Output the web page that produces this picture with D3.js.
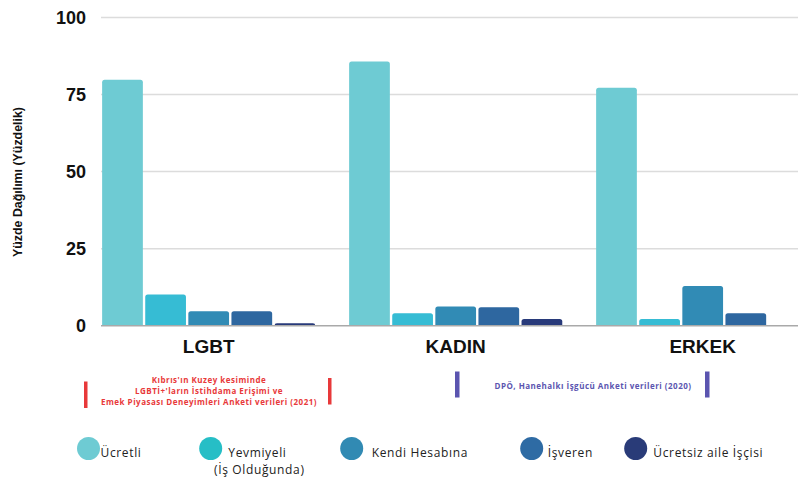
<!DOCTYPE html>
<html><head><meta charset="utf-8">
<script src="https://cdn.jsdelivr.net/npm/d3@7"></script>
<style>body{margin:0;background:#fff}svg{display:block}</style>
</head><body>
<svg id="c" width="798" height="477"></svg>
<script>
const categories = ["LGBT", "KADIN", "ERKEK"];
const seriesNames = ["Ücretli", "Yevmiyeli", "Kendi Hesabına", "İşveren", "Ücretsiz aile İşçisi"];
const ucretli = [79.8, 85.7, 77.2];
const yevmiyeli = [10.1, 4.0, 2.2];
const kendiHesabina = [4.7, 6.2, 12.9];
const isveren = [4.7, 6.0, 4.0];
const ucretsizAile = [0.8, 2.2, 0];
const yTicks = [0, 25, 50, 75, 100];
const barColors = ["#6ECBD3", "#36BCD4", "#318BB5", "#2E67A0", "#283A7A"];
const legendColors = ["#6ECBD3", "#26BEC6", "#318AB3", "#2E6BA4", "#293B78"];
const seriesValues = [ucretli, yevmiyeli, kendiHesabina, isveren, ucretsizAile];

const svg = d3.select("#c");
const y = d3.scaleLinear().domain([0, 100]).range([325.7, 17.5]);
const x0 = d3.scaleBand().domain(categories).range([101.7, 809.7]).paddingInner(0.1336).paddingOuter(0);
const x1 = d3.scaleBand().domain(seriesNames).range([0, x0.bandwidth()]).paddingInner(0.055).paddingOuter(0.01);

function fitWidth(sel, refNode, base, target) {
  const w = refNode.getComputedTextLength();
  sel.attr("font-size", w > 0 ? base * target / w : base);
}
// widen a text selection with letter-spacing so a reference node reaches a target width
function fitSpacing(sel, refNode, target) {
  const w = refNode.getComputedTextLength();
  const n = refNode.textContent.length;
  sel.attr("letter-spacing", Math.max(0, (target - w) / n));
}

// gridlines
svg.append("g").selectAll("line").data(yTicks.filter(d => d > 0)).join("line")
  .attr("x1", 101).attr("x2", 798).attr("y1", d => y(d)).attr("y2", d => y(d))
  .attr("stroke", "#dcdcdc").attr("stroke-width", 1.5);

// y tick labels
svg.append("g").selectAll("text").data(yTicks).join("text")
  .attr("x", 86).attr("y", d => y(d)).attr("dy", "0.36em")
  .attr("text-anchor", "end").attr("font-family", "Liberation Sans, Arial, sans-serif")
  .attr("font-weight", "bold").attr("font-size", 18).attr("fill", "#111").text(d => d);

// y title
const yTitle = svg.append("text").attr("transform", "translate(21.5,182) rotate(-90)")
  .attr("text-anchor", "middle").attr("font-family", "Liberation Sans, Arial, sans-serif")
  .attr("font-weight", "bold").attr("font-size", 10).attr("fill", "#111")
  .text("Yüzde Dağılımı (Yüzdelik)");
fitWidth(yTitle, yTitle.node(), 10, 150);

// bars
function topRounded(x, yTop, w, yBase, r) {
  const h = yBase - yTop;
  r = Math.min(r, h, w / 2);
  return `M${x},${yBase}V${yTop + r}Q${x},${yTop} ${x + r},${yTop}H${x + w - r}Q${x + w},${yTop} ${x + w},${yTop + r}V${yBase}Z`;
}
const groups = svg.append("g").selectAll("g").data(categories).join("g")
  .attr("transform", d => `translate(${x0(d)},0)`);
groups.selectAll("path").data((c, ci) => seriesNames.map((s, si) => ({ s, si, v: seriesValues[si][ci] })).filter(d => d.v > 0))
  .join("path")
  .attr("d", d => topRounded(x1(d.s), y(d.v), x1.bandwidth(), y(0), 2.5))
  .attr("fill", d => barColors[d.si]);

// baseline
svg.append("line").attr("x1", 101).attr("x2", 798).attr("y1", y(0)).attr("y2", y(0))
  .attr("stroke", "#a9a9a9").attr("stroke-width", 1.5);

// category labels
svg.append("g").selectAll("text").data(categories).join("text")
  .attr("x", d => x0(d) + x0.bandwidth() / 2).attr("y", 353)
  .attr("text-anchor", "middle").attr("font-family", "Liberation Sans, Arial, sans-serif")
  .attr("font-weight", "bold").attr("font-size", 19).attr("fill", "#111").text(d => d);

// source notes
const noteFont = "Open Sans, sans-serif";
const redLines = ["Kıbrıs'ın Kuzey kesiminde", "LGBTİ+'ların İstihdama Erişimi ve", "Emek Piyasası Deneyimleri Anketi verileri (2021)"];
const red = svg.append("g").selectAll("text").data(redLines).join("text")
  .attr("x", 209).attr("y", (d, i) => 382.5 + i * 11.3)
  .attr("text-anchor", "middle").attr("font-family", noteFont).attr("font-weight", "bold")
  .attr("font-size", 8).attr("fill", "#E8393A").text(d => d);
fitSpacing(red, red.nodes()[2], 216);
svg.append("rect").attr("x", 84).attr("y", 381.5).attr("width", 3.5).attr("height", 26.5).attr("fill", "#E8393A");
svg.append("rect").attr("x", 328).attr("y", 378).attr("width", 3.5).attr("height", 26.5).attr("fill", "#E8393A");

const purple = svg.append("text").attr("x", 593).attr("y", 388.5).attr("text-anchor", "middle")
  .attr("font-family", noteFont).attr("font-weight", "bold").attr("font-size", 8)
  .attr("fill", "#5B55B0").text("DPÖ, Hanehalkı İşgücü Anketi verileri (2020)");
fitSpacing(purple, purple.node(), 197);
svg.append("rect").attr("x", 455).attr("y", 371.5).attr("width", 4.5).attr("height", 26).attr("fill", "#5B55B0");
svg.append("rect").attr("x", 705).attr("y", 371.5).attr("width", 4.5).attr("height", 26).attr("fill", "#5B55B0");

// legend
const legendFont = "Open Sans, Lato, sans-serif";
const legendItems = [
  { cx: 88.5, tx: 100.5 },
  { cx: 210.7, tx: 228.3, extra: "(İş Olduğunda)", extraX: 214 },
  { cx: 351.7, tx: 371.7 },
  { cx: 531.7, tx: 547.7 },
  { cx: 635.7, tx: 653.3 }
];
const lg = svg.append("g");
legendItems.forEach((d, i) => {
  lg.append("circle").attr("cx", d.cx).attr("cy", 448.5).attr("r", 11.5).attr("fill", legendColors[i]);
  lg.append("text").attr("class", "lt").attr("x", d.tx).attr("y", 457).attr("font-family", legendFont)
    .attr("font-size", 12).attr("font-weight", 500).attr("fill", "#222").text(seriesNames[i]);
  if (d.extra) {
    lg.append("text").attr("class", "lt").attr("x", d.extraX).attr("y", 473.5).attr("font-family", legendFont)
      .attr("font-size", 12).attr("font-weight", 500).attr("fill", "#222").text(d.extra);
  }
});
const lts = lg.selectAll("text.lt");
fitSpacing(lts, lts.filter(function () { return this.textContent === seriesNames[4]; }).node(), 110);
</script>
</body></html>
